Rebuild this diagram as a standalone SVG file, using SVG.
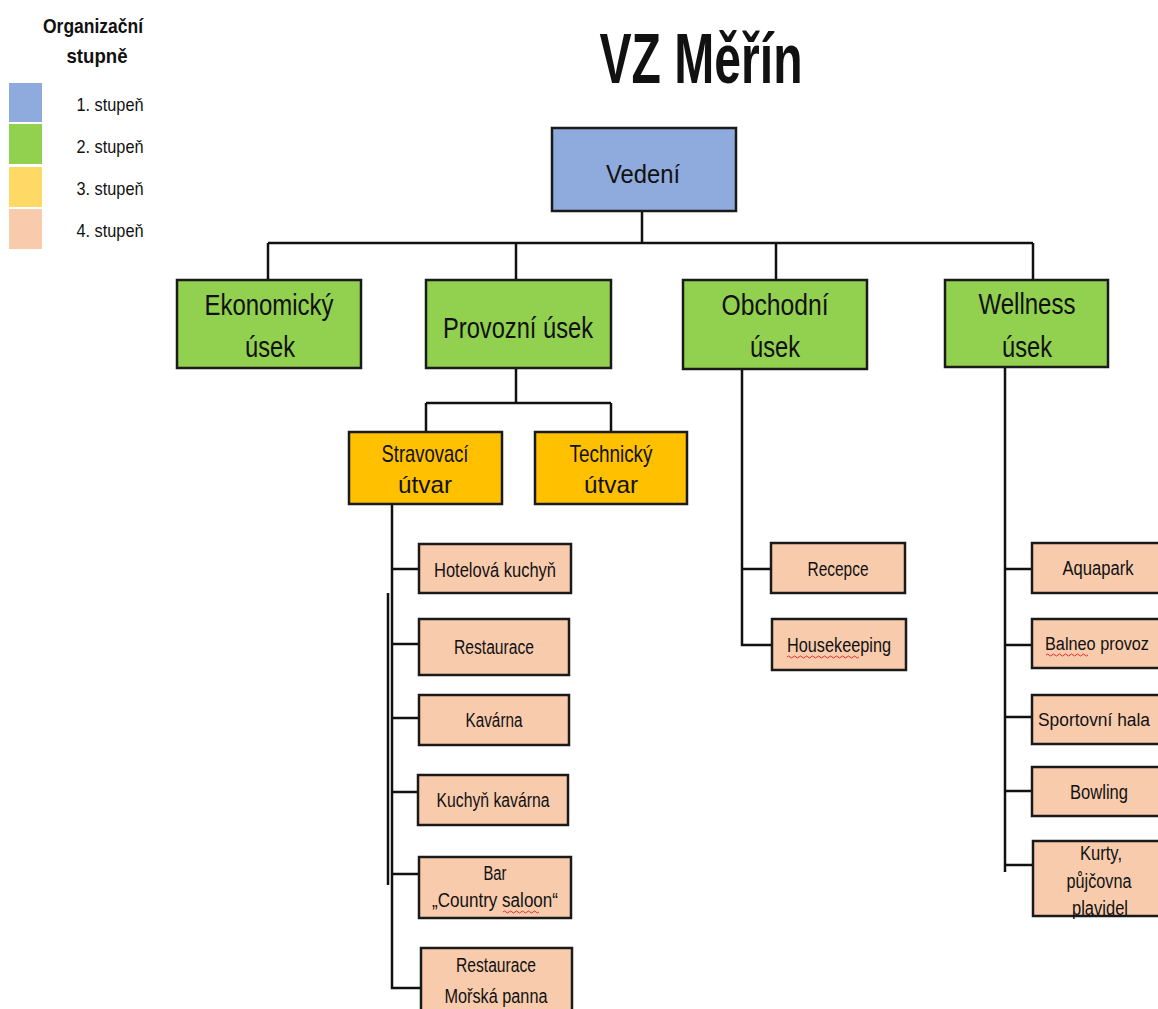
<svg xmlns="http://www.w3.org/2000/svg" width="1158" height="1009" viewBox="0 0 1158 1009">
<style>
text{font-family:"Liberation Sans",Arial,sans-serif;fill:#111;text-anchor:middle}
.box{stroke:#1a1a1a;stroke-width:2.5}
.l1{fill:#8faadc}.l2{fill:#92d050}.l3{fill:#ffc000}.l4{fill:#f8cbad}
.c{stroke:#111;stroke-width:2.5;fill:none}
.t2{font-size:30px}.t3{font-size:24px}.t4{font-size:20px}.t4s{font-size:18px}
.lg{font-size:19px}.lh{font-size:21px;font-weight:bold}
.sq{stroke:#e03030;stroke-width:1;fill:none}
</style>
<rect width="1158" height="1009" fill="#fff"/>
<g id="legend">
<text class="lh" x="93" y="33" textLength="100" lengthAdjust="spacingAndGlyphs">Organizační</text>
<text class="lh" x="97" y="63" textLength="61" lengthAdjust="spacingAndGlyphs">stupně</text>
<rect x="9" y="83" width="33" height="39" fill="#8faadc"/>
<rect x="9" y="124" width="33" height="40" fill="#92d050"/>
<rect x="9" y="167" width="33" height="40" fill="#ffd966"/>
<rect x="9" y="209" width="33" height="40" fill="#f8cbad"/>
<text class="lg" x="110" y="111" textLength="67" lengthAdjust="spacingAndGlyphs">1. stupeň</text>
<text class="lg" x="110" y="153" textLength="67" lengthAdjust="spacingAndGlyphs">2. stupeň</text>
<text class="lg" x="110" y="195" textLength="67" lengthAdjust="spacingAndGlyphs">3. stupeň</text>
<text class="lg" x="110" y="237" textLength="67" lengthAdjust="spacingAndGlyphs">4. stupeň</text>
</g>
<text id="title" x="701" y="83" style="font-size:71px;font-weight:bold" textLength="203" lengthAdjust="spacingAndGlyphs">VZ Měřín</text>
<g id="connectors">
<path class="c" d="M642 211V243M268 243H1033M268 243V280M516 243V280M776 243V280M1033 243V280"/>
<path class="c" d="M516 368V403M426 403H611M426 403V432M611 403V432"/>
<path class="c" d="M392 504V988H420M392 569H419M392 644H419M392 718H419M392 792H418M392 874H419M388 593V885"/>
<path class="c" d="M742 369V645H772M742 569H771"/>
<path class="c" d="M1005 367V872M1005 569H1032M1005 645H1032M1005 717H1032M1005 791H1032M1005 865H1032"/>
</g>
<g id="vedeni"><rect class="box l1" x="552" y="128" width="184" height="83"/><text x="643" y="183" style="font-size:25px" textLength="74" lengthAdjust="spacingAndGlyphs">Vedení</text></g>
<g id="ekonomicky"><rect class="box l2" x="177" y="280" width="184" height="88"/><text class="t2" x="269" y="315" textLength="129" lengthAdjust="spacingAndGlyphs">Ekonomický</text><text class="t2" x="270" y="357" textLength="50" lengthAdjust="spacingAndGlyphs">úsek</text></g>
<g id="provozni"><rect class="box l2" x="426" y="280" width="185" height="88"/><text class="t2" x="518" y="338" textLength="150" lengthAdjust="spacingAndGlyphs">Provozní úsek</text></g>
<g id="obchodni"><rect class="box l2" x="683" y="280" width="184" height="89"/><text class="t2" x="775" y="315" textLength="107" lengthAdjust="spacingAndGlyphs">Obchodní</text><text class="t2" x="775" y="357" textLength="50" lengthAdjust="spacingAndGlyphs">úsek</text></g>
<g id="wellness"><rect class="box l2" x="945" y="280" width="163" height="87"/><text class="t2" x="1027" y="314" textLength="97" lengthAdjust="spacingAndGlyphs">Wellness</text><text class="t2" x="1027" y="357" textLength="50" lengthAdjust="spacingAndGlyphs">úsek</text></g>
<g id="stravovaci"><rect class="box l3" x="349" y="432" width="153" height="72"/><text class="t3" x="425" y="462" textLength="87" lengthAdjust="spacingAndGlyphs">Stravovací</text><text class="t3" x="425" y="493" textLength="54" lengthAdjust="spacingAndGlyphs">útvar</text></g>
<g id="technicky"><rect class="box l3" x="535" y="432" width="152" height="72"/><text class="t3" x="611" y="462" textLength="83" lengthAdjust="spacingAndGlyphs">Technický</text><text class="t3" x="611" y="493" textLength="54" lengthAdjust="spacingAndGlyphs">útvar</text></g>
<g id="hotelova"><rect class="box l4" x="419" y="544" width="152" height="49"/><text class="t4" x="495" y="577" textLength="122" lengthAdjust="spacingAndGlyphs">Hotelová kuchyň</text></g>
<g id="restaurace"><rect class="box l4" x="419" y="619" width="150" height="56"/><text class="t4" x="494" y="654" textLength="80" lengthAdjust="spacingAndGlyphs">Restaurace</text></g>
<g id="kavarna"><rect class="box l4" x="419" y="695" width="150" height="50"/><text class="t4" x="494" y="727" textLength="57" lengthAdjust="spacingAndGlyphs">Kavárna</text></g>
<g id="kuchyn-kavarna"><rect class="box l4" x="418" y="775" width="150" height="50"/><text class="t4" x="493" y="807" textLength="113" lengthAdjust="spacingAndGlyphs">Kuchyň kavárna</text></g>
<g id="bar"><rect class="box l4" x="419" y="857" width="152" height="61"/><text class="t4" x="495" y="880" textLength="23" lengthAdjust="spacingAndGlyphs">Bar</text><text class="t4" x="495" y="907" textLength="126" lengthAdjust="spacingAndGlyphs">„Country saloon“</text><path class="sq" d="M503 912q1.5-2 3 0t3 0t3 0t3 0t3 0t3 0t3 0t3 0t3 0t3 0t3 0t3 0"/></g>
<g id="morska-panna"><rect class="box l4" x="421" y="948" width="151" height="70"/><text class="t4" x="496" y="972" textLength="80" lengthAdjust="spacingAndGlyphs">Restaurace</text><text class="t4" x="496" y="1003" textLength="103" lengthAdjust="spacingAndGlyphs">Mořská panna</text></g>
<g id="recepce"><rect class="box l4" x="771" y="543" width="134" height="50"/><text class="t4" x="838" y="576" textLength="61" lengthAdjust="spacingAndGlyphs">Recepce</text></g>
<g id="housekeeping"><rect class="box l4" x="772" y="619" width="134" height="51"/><text class="t4" x="839" y="652" textLength="104" lengthAdjust="spacingAndGlyphs">Housekeeping</text><path class="sq" d="M787 657q1.5-2 3 0t3 0t3 0t3 0t3 0t3 0t3 0t3 0t3 0t3 0t3 0t3 0t3 0t3 0t3 0t3 0t3 0t3 0t3 0t3 0t3 0t3 0t3 0t3 0"/></g>
<g id="aquapark"><rect class="box l4" x="1032" y="543" width="132" height="50"/><text class="t4" x="1098" y="575" textLength="71" lengthAdjust="spacingAndGlyphs">Aquapark</text></g>
<g id="balneo"><rect class="box l4" x="1032" y="619" width="132" height="49"/><text class="t4s" x="1097" y="650" textLength="104" lengthAdjust="spacingAndGlyphs">Balneo provoz</text><path class="sq" d="M1046 655q1.5-2 3 0t3 0t3 0t3 0t3 0t3 0t3 0t3 0t3 0t3 0t3 0t3 0t3 0t3 0"/></g>
<g id="sportovni"><rect class="box l4" x="1032" y="695" width="132" height="49"/><text class="t4s" x="1094" y="726" textLength="112" lengthAdjust="spacingAndGlyphs">Sportovní hala</text></g>
<g id="bowling"><rect class="box l4" x="1032" y="767" width="132" height="49"/><text class="t4" x="1099" y="799" textLength="58" lengthAdjust="spacingAndGlyphs">Bowling</text></g>
<g id="kurty"><rect class="box l4" x="1033" y="841" width="132" height="75"/><text class="t4" x="1101" y="860" textLength="42" lengthAdjust="spacingAndGlyphs">Kurty,</text><text class="t4" x="1099" y="888" textLength="65" lengthAdjust="spacingAndGlyphs">půjčovna</text><text class="t4" x="1100" y="915" textLength="56" lengthAdjust="spacingAndGlyphs">plavidel</text></g>
</svg>
